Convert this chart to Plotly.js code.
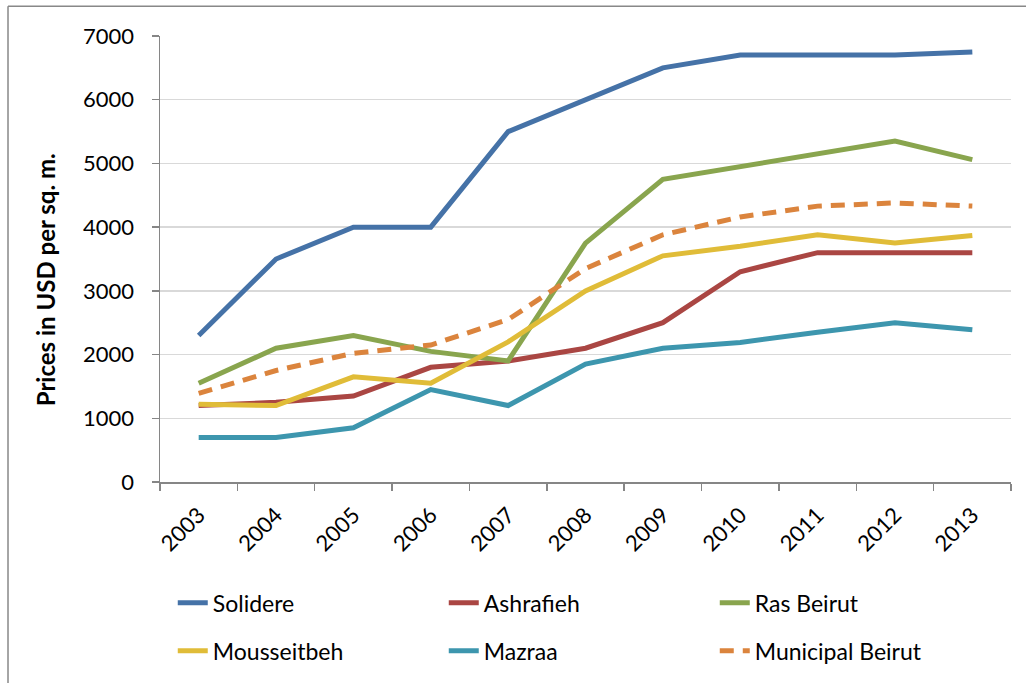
<!DOCTYPE html>
<html>
<head>
<meta charset="utf-8">
<script src="https://cdn.plot.ly/plotly-3.0.1.min.js"></script>
<style>
html,body{margin:0;padding:0;background:#fff;}
#chart{width:1026px;height:683px;}
</style>
</head>
<body>
<div id="chart"></div>
<script>
const years = ["2003","2004","2005","2006","2007","2008","2009","2010","2011","2012","2013"];
const solidere    = [2300,3500,4000,4000,5500,6000,6500,6700,6700,6700,6750];
const ashrafieh   = [1200,1250,1350,1800,1900,2100,2500,3300,3600,3600,3600];
const rasBeirut   = [1550,2100,2300,2050,1900,3750,4750,4950,5150,5350,5060];
const mousseitbeh = [1220,1200,1650,1550,2200,3000,3550,3700,3880,3750,3870];
const mazraa      = [700,700,850,1450,1200,1850,2100,2190,2350,2500,2390];
const municipal   = [1390,1750,2020,2150,2550,3350,3880,4160,4330,4380,4330];
const yTickVals = [0,1000,2000,3000,4000,5000,6000,7000];

const FONT = "Lato, 'Open Sans', sans-serif";
function tr(name, y, color, legend, dash) {
  return {
    type: "scatter", mode: "lines", name: name, x: years, y: y,
    line: {color: color, width: 5, dash: dash || "solid"},
    legend: legend
  };
}
const data = [
  tr("Solidere", solidere, "#4572A7", "legend"),
  tr("Ashrafieh", ashrafieh, "#AA4643", "legend"),
  tr("Ras Beirut", rasBeirut, "#89A54E", "legend"),
  tr("Mousseitbeh", mousseitbeh, "#E0BC38", "legend2"),
  tr("Mazraa", mazraa, "#3D96AE", "legend2"),
  tr("Municipal Beirut", municipal, "#DB843D", "legend2", "14px,9px")
];

const legendCommon = {
  orientation: "h", x: 0.015, xanchor: "left", yanchor: "middle", yref: "container",
  entrywidth: 226, entrywidthmode: "pixels",
  font: {family: FONT, size: 23, color: "#000"},
  bgcolor: "rgba(0,0,0,0)", itemwidth: 30, traceorder: "normal"
};

const layout = {
  width: 1026, height: 683,
  margin: {l: 160, r: 15, t: 36, b: 201},
  paper_bgcolor: "#fff", plot_bgcolor: "#fff",
  showlegend: true,
  font: {family: FONT, size: 22, color: "#000"},
  xaxis: {
    type: "category", range: [-0.5, 10.5],
    tickangle: -45, ticks: "outside", tickson: "boundaries", ticklen: 7,
    tickcolor: "#868686", tickwidth: 1.5,
    showline: true, linecolor: "#868686", linewidth: 1.5,
    showgrid: false, tickfont: {family: FONT, size: 22, color: "#000"},
    ticklabelstandoff: 10, fixedrange: true
  },
  yaxis: {
    range: [0, 7000], tickvals: yTickVals, ticks: "outside", ticklen: 7,
    tickcolor: "#868686", tickwidth: 1.5,
    showline: true, linecolor: "#868686", linewidth: 1.5,
    showgrid: true, gridcolor: "#d9d9d9", gridwidth: 1.5,
    zeroline: false, tickfont: {family: FONT, size: 22, color: "#000"},
    ticklabelstandoff: 13, fixedrange: true
  },
  legend: Object.assign({}, legendCommon, {y: 0.1176}),
  legend2: Object.assign({}, legendCommon, {y: 0.0473}),
  annotations: [{
    text: "<b>Prices in USD per sq. m.</b>", textangle: -90,
    xref: "paper", yref: "paper", x: -0.135, y: 0.4526,
    xanchor: "center", yanchor: "middle", showarrow: false,
    font: {family: FONT, size: 24, color: "#000"}
  }],
  shapes: [
    {type: "line", xref: "paper", yref: "paper", x0: -0.1786, x1: -0.1786, y0: 1.0666, y1: -0.46,
     line: {color: "#888", width: 1.5}},
    {type: "line", xref: "paper", yref: "paper", x0: -0.1786, x1: 1.03, y0: 1.0666, y1: 1.0666,
     line: {color: "#888", width: 1.5}}
  ]
};

Plotly.newPlot("chart", data, layout, {displayModeBar: false, staticPlot: true});
</script>
</body>
</html>
